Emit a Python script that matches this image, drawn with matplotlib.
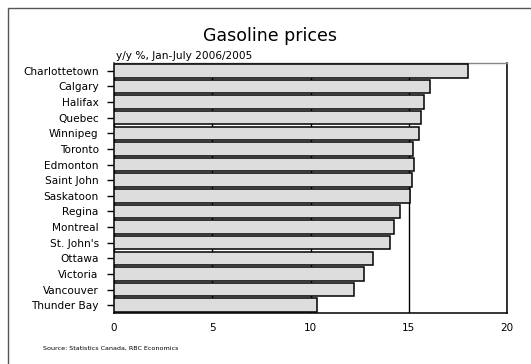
import matplotlib.pyplot as plt
from matplotlib.patches import Rectangle

CITIES = [
    "Charlottetown", "Calgary", "Halifax", "Quebec", "Winnipeg", "Toronto",
    "Edmonton", "Saint John", "Saskatoon", "Regina", "Montreal",
    "St. John's", "Ottawa", "Victoria", "Vancouver", "Thunder Bay",
]
CHANGE = [
    18.0, 16.1, 15.8, 15.6, 15.5, 15.2, 15.25, 15.15, 15.05,
    14.55, 14.25, 14.05, 13.2, 12.7, 12.2, 10.35,
]
XTICKS = [0, 5, 10, 15, 20]

W, H = 531, 364
fig = plt.figure(figsize=(W / 100, H / 100), dpi=100)
plt.rcParams["font.family"] = "DejaVu Sans"

# outer frame, open at right and bottom like the original page crop
fig.add_artist(Rectangle((8 / W, -0.05), 1.2, 1.05 - 8 / H,
                         transform=fig.transFigure, fill=False,
                         edgecolor="#555555", linewidth=1.0))

ax = fig.add_axes([114 / W, 1 - 313 / H, (507 - 114) / W, (313 - 63) / H])
ax.set_axisbelow(True)
pos = list(range(len(CITIES)))
ax.barh(pos, CHANGE, height=0.86, color="#dddddd", edgecolor="black",
        linewidth=1.1, zorder=3)
ax.set_ylim(len(CITIES) - 0.5, -0.5)
ax.set_xlim(0, 20)
ax.set_xticks(XTICKS)
ax.set_xticklabels([str(t) for t in XTICKS], fontsize=7.5)
ax.set_yticks(pos)
ax.set_yticklabels(CITIES, fontsize=7.6)
ax.tick_params(axis="y", length=5, width=1, pad=6)
ax.tick_params(axis="x", length=0, pad=7)
ax.grid(axis="x", color="black", linewidth=1, zorder=0)
for side in ("left", "bottom", "right"):
    ax.spines[side].set_linewidth(1.1)
ax.spines["top"].set_color("#888888")
ax.spines["top"].set_linewidth(1)

fig.text(270 / W, 1 - 36 / H, "Gasoline prices", ha="center", va="center",
         fontsize=12.5)
fig.text(116 / W, 1 - 56 / H, "y/y %, Jan-July 2006/2005", ha="left",
         va="center", fontsize=7.6)
fig.text(43 / W, 1 - 348 / H, "Source: Statistics Canada, RBC Economics",
         ha="left", va="center", fontsize=4.6)

fig.savefig("out.png", dpi=100)
